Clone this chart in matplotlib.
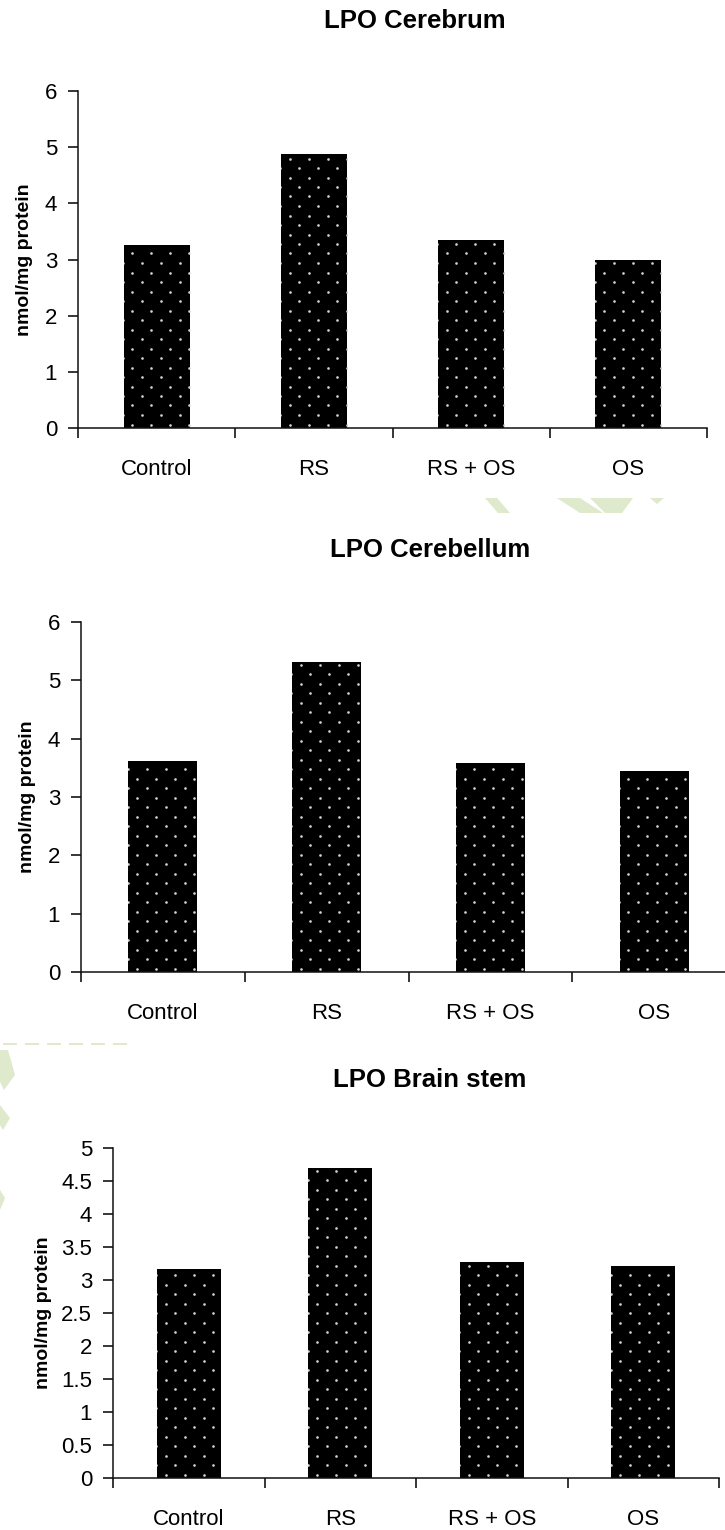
import matplotlib
matplotlib.use("Agg")
import matplotlib.pyplot as plt
from matplotlib.ticker import FixedLocator, FuncFormatter
from matplotlib.patches import Polygon
import numpy as np

plt.rcParams['font.family'] = ['Liberation Sans', 'DejaVu Sans']

# datos
grupos = ['Control', 'RS', 'RS + OS', 'OS']
cerebrum = [3.25, 4.87, 3.35, 3.00]
cerebellum = [3.61, 5.32, 3.59, 3.44]
brain_stem = [3.17, 4.69, 3.28, 3.21]

titulos = ['LPO Cerebrum', 'LPO Cerebellum', 'LPO Brain stem']
series = [cerebrum, cerebellum, brain_stem]
y_max = [6, 6, 5]
y_paso = [1, 1, 0.5]
ylabel = 'nmol/mg protein'

W, H = 725, 1530
fig = plt.figure(figsize=(W / 100, H / 100), dpi=100)

# cajas de los ejes en pixeles: izquierda, derecha, arriba, abajo
cajas = [(78, 707, 91, 428), (81, 736, 622, 972), (113, 719, 1148, 1478)]
pos_titulo = [(415, 21), (430, 550), (430, 1080)]
pos_ylabel = [25, 28, 44]


def puntear(ax, barras):
    # textura de puntos blancos como en el original
    inv = ax.transData.inverted()
    for b in barras:
        x0, y0 = ax.transData.transform((b.get_x(), 0))
        x1, y1 = ax.transData.transform((b.get_x() + b.get_width(), b.get_height()))
        px, py = [], []
        fila = 0
        y = y0 - 3
        while y > -1e9 and y < 1e9:
            y = y0 + 3.5 + fila * 9.5
            if y > y1 - 1:
                break
            inicio = x0 + 8.7 if fila % 2 == 0 else x0 - 0.8
            for x in np.arange(inicio, x1 + 2, 19.0):
                px.append(x)
                py.append(y)
            fila += 1
        if not px:
            continue
        datos = inv.transform(np.column_stack([px, py]))
        ln, = ax.plot(datos[:, 0], datos[:, 1], 'o', ls='none', ms=1.9,
                      color='#d4d4d4', mec='none', zorder=3)
        ln.set_clip_path(b)


for i in range(3):
    iz, de, ar, ab = cajas[i]
    ax = fig.add_axes([iz / W, (H - ab) / H, (de - iz) / W, (ab - ar) / H])
    x = np.arange(len(grupos))
    barras = ax.bar(x, series[i], width=0.42, color='black', linewidth=0, zorder=2)
    ax.set_xlim(-0.5, len(grupos) - 0.5)
    ax.set_ylim(0, y_max[i])
    ax.set_yticks(np.arange(0, y_max[i] + 0.01, y_paso[i]))
    ax.yaxis.set_major_formatter(FuncFormatter(lambda v, p: '%g' % v))
    ax.set_xticks(x)
    ax.set_xticklabels(grupos)
    ax.xaxis.set_minor_locator(FixedLocator(np.arange(-0.5, len(grupos), 1.0)))
    ax.tick_params(axis='x', which='major', length=0, pad=22, labelsize=16)
    ax.tick_params(axis='x', which='minor', length=7, width=1.1, direction='out')
    ax.tick_params(axis='y', length=7, width=1.1, pad=8, labelsize=16)
    for s in ['top', 'right']:
        ax.spines[s].set_visible(False)
    for s in ['left', 'bottom']:
        ax.spines[s].set_linewidth(1.1)
        ax.spines[s].set_color('#111111')
    ax.spines['left'].set_zorder(4)
    ax.spines['bottom'].set_zorder(4)
    ax.patch.set_alpha(0)
    puntear(ax, barras)

    tx, ty = pos_titulo[i]
    fig.text(tx / W, 1 - ty / H, titulos[i], ha='center', va='center',
             fontsize=18.5, fontweight='bold')
    fig.text(pos_ylabel[i] / W, 1 - ((ar + ab) / 2) / H, ylabel, rotation=90,
             ha='center', va='center', fontsize=14, fontweight='bold')

# marca de agua verde muy tenue
verde = '#dfe9cc'
formas = [
    [(485, 498), (497, 498), (510, 513), (498, 513)],
    [(557, 498), (580, 498), (603, 513), (580, 513)],
    [(590, 498), (633, 498), (622, 513), (605, 513)],
    [(650, 498), (664, 498), (657, 504)],
    [(0, 1050), (8, 1050), (15, 1075), (4, 1090), (0, 1082)],
    [(0, 1105), (10, 1118), (3, 1130), (0, 1125)],
    [(0, 1190), (5, 1198), (0, 1210)],
]
for f in formas:
    fig.patches.append(Polygon([(a / W, 1 - b / H) for a, b in f], closed=True,
                               transform=fig.transFigure, facecolor=verde,
                               edgecolor='none', zorder=0))
for a in range(3, 133, 22):
    fig.patches.append(Polygon([(a / W, 1 - 1043 / H), ((a + 14) / W, 1 - 1043 / H),
                                ((a + 14) / W, 1 - 1045 / H), (a / W, 1 - 1045 / H)],
                               closed=True, transform=fig.transFigure,
                               facecolor=verde, edgecolor='none', zorder=0))

fig.savefig('out.png', dpi=100, facecolor='white')
plt.close(fig)
